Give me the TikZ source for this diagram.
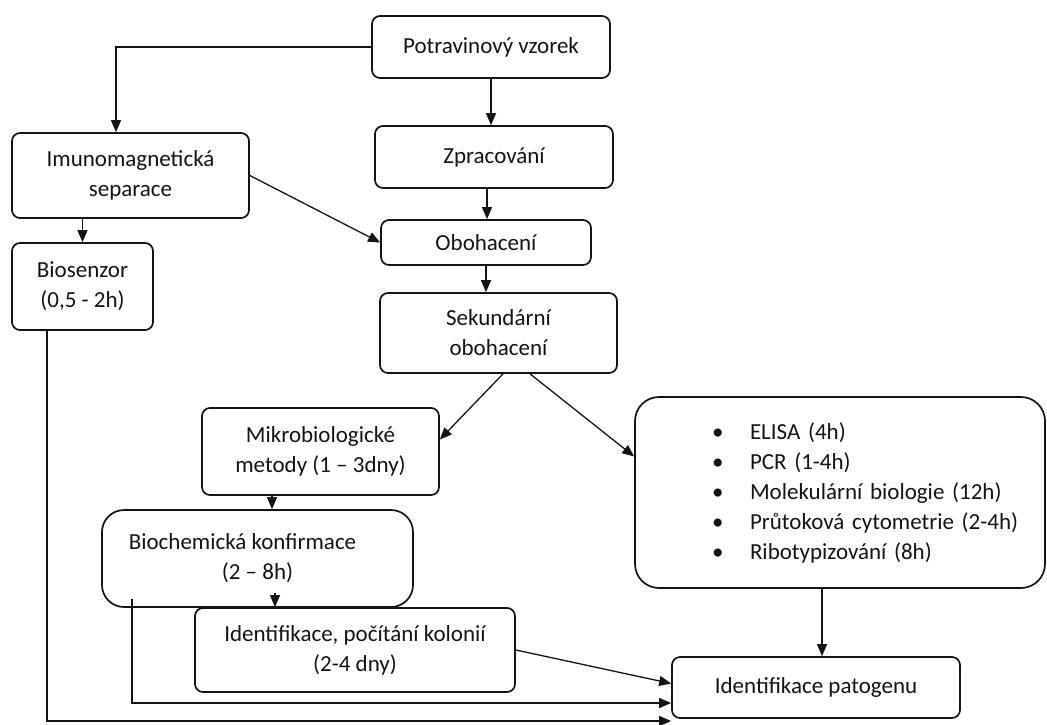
\documentclass[tikz,border=0pt]{standalone}
\usepackage{fontspec}
\setmainfont{Carlito}
\usepackage{xcolor}
\usepackage{tikz}
\usetikzlibrary{positioning,arrows.meta,calc}
\definecolor{inkcol}{RGB}{20,20,20}
\newcommand{\bulitem}[1]{\hspace*{57pt}\makebox[38pt][l]{\textbullet}#1}

\begin{document}
\begin{tikzpicture}[
  x=1pt, y=-1pt,
  font=\fontsize{23}{30}\selectfont,
  >={Triangle[length=12pt,width=10pt]},
  box/.style={rounded corners=8pt, draw=inkcol, line width=1.7pt,
              align=center, inner sep=4pt, text=inkcol},
  flow/.style={->, line width=1.3pt, draw=inkcol},
]
\useasboundingbox (0,0) rectangle (1047,724);

% ---------- main column ----------
\node[box, minimum width=238pt, minimum height=62pt] (vzorek) at (491,47) {Potravinový vzorek};
\node[box, minimum width=238pt, minimum height=62pt] (zprac) at (494,157) {Zpracování};
\node[box, minimum width=210pt, minimum height=45pt] (oboh) at (486,242.5) {Obohacení};
\node[box, minimum width=237pt, minimum height=80pt] (sekund) at (498.5,333) {Sekundární\\obohacení};

% ---------- immunomagnetic branch ----------
\node[box, minimum width=237pt, minimum height=85pt] (imuno) at (130.5,175.5) {Imunomagnetická\\separace};
\node[box, minimum width=141pt, minimum height=87pt] (biosenz) at (82.5,286.5) {Biosenzor\\(0,5 - 2h)};

% ---------- culture branch ----------
\node[box, minimum width=237pt, minimum height=87pt] (mikro) at (320.5,451.5) {Mikrobiologické\\metody (1 – 3dny)};
\node[box, rounded corners=22pt, minimum width=311pt, minimum height=97pt] (biochem) at (257.5,558.5)
  {Biochemická konfirmace\hspace*{30pt}\\(2 – 8h)};
\node[box, minimum width=320pt, minimum height=84pt] (kolonie) at (355,650) {Identifikace, počítání kolonií\\(2-4 dny)};

% ---------- rapid methods ----------
\node[box, rounded corners=24pt, text width=370pt, inner xsep=20pt, align=left, minimum height=191pt]
  (rychle) at (840,492.5) {\bulitem{ELISA (4h)}\\ \bulitem{PCR (1-4h)}\\ \bulitem{Molekulární biologie (12h)}\\
  \bulitem{Průtoková cytometrie (2-4h)}\\ \bulitem{Ribotypizování (8h)}};
\node[box, minimum width=288pt, minimum height=61pt] (patogen) at (816,687.5) {Identifikace patogenu};

% ---------- connectors ----------
\draw[flow] (vzorek.west) -| ([xshift=-14.5pt]imuno.north);
\draw[flow] (vzorek.south) -- (vzorek.south |- zprac.north);
\draw[flow] ([xshift=-7pt]zprac.south) -- ([xshift=-7pt]zprac.south |- oboh.north);
\draw[flow] (oboh.south) -- (oboh.south |- sekund.north);
\draw[flow] (imuno.east) -- (oboh.west);
\draw[flow] (imuno.south -| biosenz.north) -- (biosenz.north);
\draw[flow] ([xshift=4.5pt]sekund.south) -- ([yshift=12pt]mikro.east);
\draw[flow] ([xshift=31.5pt]sekund.south) -- ([yshift=36pt]rychle.west);
\draw[flow] ([xshift=-48.5pt]mikro.south) -- ([xshift=-48.5pt]mikro.south |- biochem.north);
\draw[flow] ([xshift=-80pt,yshift=14pt]kolonie.north) -- ([xshift=-80pt]kolonie.north);
\draw[flow] ([xshift=-125.5pt,yshift=9pt]biochem.south) |- ([yshift=-15.5pt]patogen.west);
\draw[flow] (kolonie.east) -- ([yshift=4pt]patogen.west);
\draw[flow] ([xshift=6pt]patogen.north |- rychle.south) -- ([xshift=6pt]patogen.north);
\draw[flow] ([xshift=-35.5pt]biosenz.south) |- ([yshift=-33.5pt]patogen.west);

\end{tikzpicture}
\end{document}
